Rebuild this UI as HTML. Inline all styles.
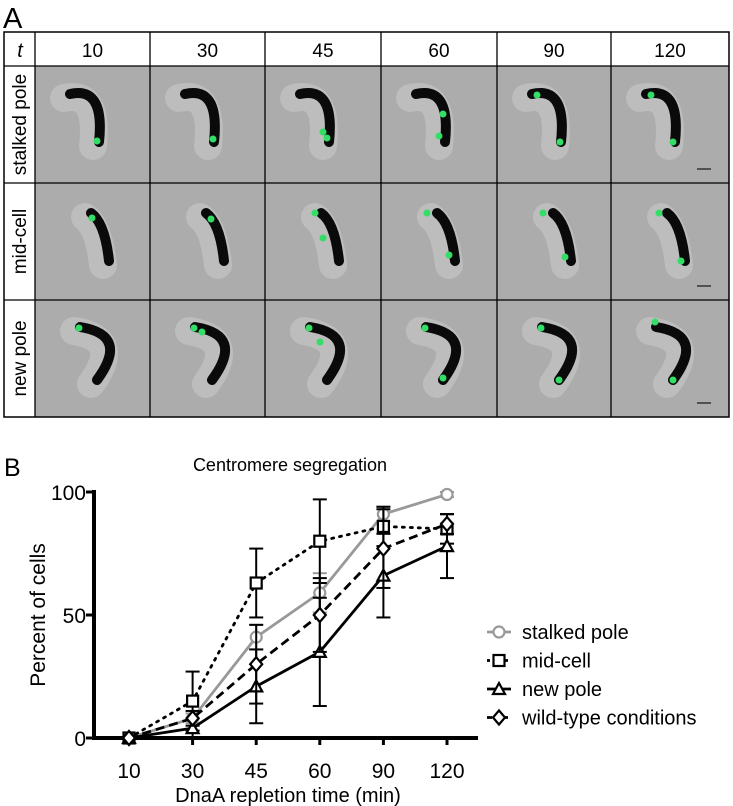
<!DOCTYPE html>
<html><head><meta charset="utf-8">
<style>
body{margin:0;background:#fff;font-family:"Liberation Sans",sans-serif;}
svg{display:block}
</style></head>
<body>
<svg width="733" height="806" viewBox="0 0 733 806">
<text x="3" y="28" font-size="29">A</text>
<g id="grid"></g>
<text x="4" y="476" font-size="25">B</text>
<text x="290" y="471" font-size="18" text-anchor="middle">Centromere segregation</text>
<g id="chart"></g>
</svg>
<script>
const categories=["10","30","45","60","90","120"];
const stalked=[0,8,41,59,91,99];
const stalkedErr=[0,2,5,8,3,1];
const midcell=[0,15,63,80,86,85];
const midcellErr=[0,12,14,17,8,6];
const newpole=[0,4,21,35,66,78];
const newpoleErr=[0,4,15,22,17,13];
const wildtype=[0,8,30,50,77,87];
const wildtypeErr=[0,3,16,15,16,4];
const yTicks=[0,50,100];
const times=["10","30","45","60","90","120"];
const rows=["stalked pole","mid-cell","new pole"];

const NS="http://www.w3.org/2000/svg";
function mk(tag,attrs,parent){const e=document.createElementNS(NS,tag);for(const k in attrs)e.setAttribute(k,attrs[k]);parent.appendChild(e);return e;}

const grid=document.getElementById('grid');
const colX=[35,150,265,381,497,611,729];
const rowY=[32,66,183,300,417];
const shapes=[
 {d:"M35,28 Q70,20 64,76",dots:[[[62,75]],[[63,73]],[[58,66],[62,72]],[[62,48],[58,70]],[[40,29],[63,76]],[[40,29],[62,76]]]},
 {d:"M56,30 Q70,40 74,78",dots:[[[57,35]],[[61,36]],[[50,30],[58,55]],[[46,30],[68,72]],[[46,30],[68,74]],[[48,30],[70,78]]]},
 {d:"M45,27 Q95,35 62,80",dots:[[[44,28]],[[44,28],[52,32]],[[44,28],[55,42]],[[44,28],[62,78]],[[44,28],[62,80]],[[44,22],[62,80]]]}
];
for(let r=0;r<3;r++){
 for(let c=0;c<6;c++){
  const x=colX[c],y=rowY[r+1],w=colX[c+1]-x,h=rowY[r+2]-y;
  const g=mk('g',{transform:`translate(${x},${y})`},grid);
  
  
  mk('rect',{x:0,y:0,width:w,height:h,fill:'#acacac'},g);
  mk('path',{d:shapes[r].d,stroke:'#c8c8c8','stroke-width':28,'stroke-opacity':0.6,fill:'none','stroke-linecap':'round',transform:'translate(-6,4)'},g);
  mk('path',{d:shapes[r].d,stroke:'#0a0a0a','stroke-width':10,fill:'none','stroke-linecap':'round'},g);
  for(const p of shapes[r].dots[c]) mk('circle',{cx:p[0],cy:p[1],r:3.5,fill:'#33dd66'},g);
  if(c===5) mk('line',{x1:86,y1:h-14,x2:100,y2:h-14,stroke:'#333','stroke-width':1.5},g);
 }
}
mk('rect',{x:4,y:32,width:725,height:385,fill:'none',stroke:'#000','stroke-width':1.5},grid);
for(const x of colX.slice(0,-1)) mk('line',{x1:x,y1:32,x2:x,y2:417,stroke:'#000','stroke-width':1.3},grid);
for(const y of rowY.slice(1,-1)) mk('line',{x1:4,y1:y,x2:729,y2:y,stroke:'#000','stroke-width':1.3},grid);
let t=mk('text',{x:20,y:57,'font-size':20,'font-style':'italic','text-anchor':'middle'},grid);t.textContent='t';

times.forEach((s,i)=>{const e=mk('text',{x:(colX[i]+colX[i+1])/2,y:57,'font-size':19,'text-anchor':'middle'},grid);e.textContent=s;
 });
rows.forEach((s,i)=>{const cy=(rowY[i+1]+rowY[i+2])/2;const e=mk('text',{x:0,y:0,'font-size':19,'text-anchor':'middle',transform:`translate(26,${cy}) rotate(-90)`},grid);e.textContent=s;
 });

const ch=document.getElementById('chart');
const xPos=i=>129+i*63.6;
const yPos=v=>738-v*2.46;
mk('line',{x1:94,y1:yPos(0),x2:478,y2:yPos(0),stroke:'#000','stroke-width':4},ch);
mk('line',{x1:94,y1:yPos(0)+2,x2:94,y2:yPos(100)-2,stroke:'#000','stroke-width':4},ch);
yTicks.forEach(v=>{mk('line',{x1:86,y1:yPos(v),x2:94,y2:yPos(v),stroke:'#000','stroke-width':3},ch);
 const e=mk('text',{x:86,y:yPos(v)+8,'font-size':21,'text-anchor':'end'},ch);e.textContent=v;
 });
categories.forEach((c,i)=>{mk('line',{x1:xPos(i),y1:yPos(0),x2:xPos(i),y2:yPos(0)+7,stroke:'#000','stroke-width':3},ch);
 const e=mk('text',{x:xPos(i),y:778,'font-size':21,'text-anchor':'middle'},ch);e.textContent=c;
 });
let yl=mk('text',{x:0,y:0,'font-size':21,'text-anchor':'middle',transform:'translate(45,615) rotate(-90)'},ch);yl.textContent='Percent of cells';

let xl=mk('text',{x:288,y:802,'font-size':20,'text-anchor':'middle'},ch);xl.textContent='DnaA repletion time (min)';


function marker(g,type,x,y,col){
 const a={fill:'#fff',stroke:col,'stroke-width':2.2};
 if(type==='circle')mk('circle',Object.assign({cx:x,cy:y,r:5.5},a),g);
 else if(type==='square')mk('rect',Object.assign({x:x-5.5,y:y-5.5,width:11,height:11},a),g);
 else if(type==='triangle')mk('path',Object.assign({d:`M${x},${y-6} L${x+6},${y+5} L${x-6},${y+5}Z`},a),g);
 else mk('path',Object.assign({d:`M${x},${y-7} L${x+6},${y} L${x},${y+7} L${x-6},${y}Z`},a),g);
}
const series=[
 {name:'stalked pole',vals:stalked,err:stalkedErr,col:'#999',dash:'',m:'circle'},
 {name:'mid-cell',vals:midcell,err:midcellErr,col:'#000',dash:'2 6',m:'square'},
 {name:'new pole',vals:newpole,err:newpoleErr,col:'#000',dash:'',m:'triangle'},
 {name:'wild-type conditions',vals:wildtype,err:wildtypeErr,col:'#000',dash:'9 5',m:'diamond'}
];
series.forEach((s,si)=>{
 const g=mk('g',{},ch);
 
 
 s.vals.forEach((v,i)=>{if(s.err[i]>0){const x=xPos(i);
  mk('line',{x1:x,y1:yPos(v-s.err[i]),x2:x,y2:yPos(v+s.err[i]),stroke:s.col,'stroke-width':2},g);
  for(const e of[v-s.err[i],v+s.err[i]])mk('line',{x1:x-7,y1:yPos(e),x2:x+7,y2:yPos(e),stroke:s.col,'stroke-width':2},g);}});
 const pts=s.vals.map((v,i)=>xPos(i)+','+yPos(v)).join(' ');
 mk('polyline',{points:pts,fill:'none',stroke:s.col,'stroke-width':2.8,'stroke-dasharray':s.dash,'stroke-linecap':s.dash==='2 6'?'round':'butt'},g);
 s.vals.forEach((v,i)=>marker(g,s.m,xPos(i),yPos(v),s.col));
 const ly=632+si*28.5;
 const lg=mk('g',{},ch);
 
 
 mk('line',{x1:487,y1:ly,x2:511,y2:ly,stroke:s.col,'stroke-width':2.8,'stroke-dasharray':s.dash==='2 6'?'3 3':s.dash?'5 3':''},lg);
 marker(lg,s.m,499,ly,s.col);
 const lt=mk('text',{x:522,y:ly+7,'font-size':20},lg);lt.textContent=s.name;
});
</script>
</body></html>
